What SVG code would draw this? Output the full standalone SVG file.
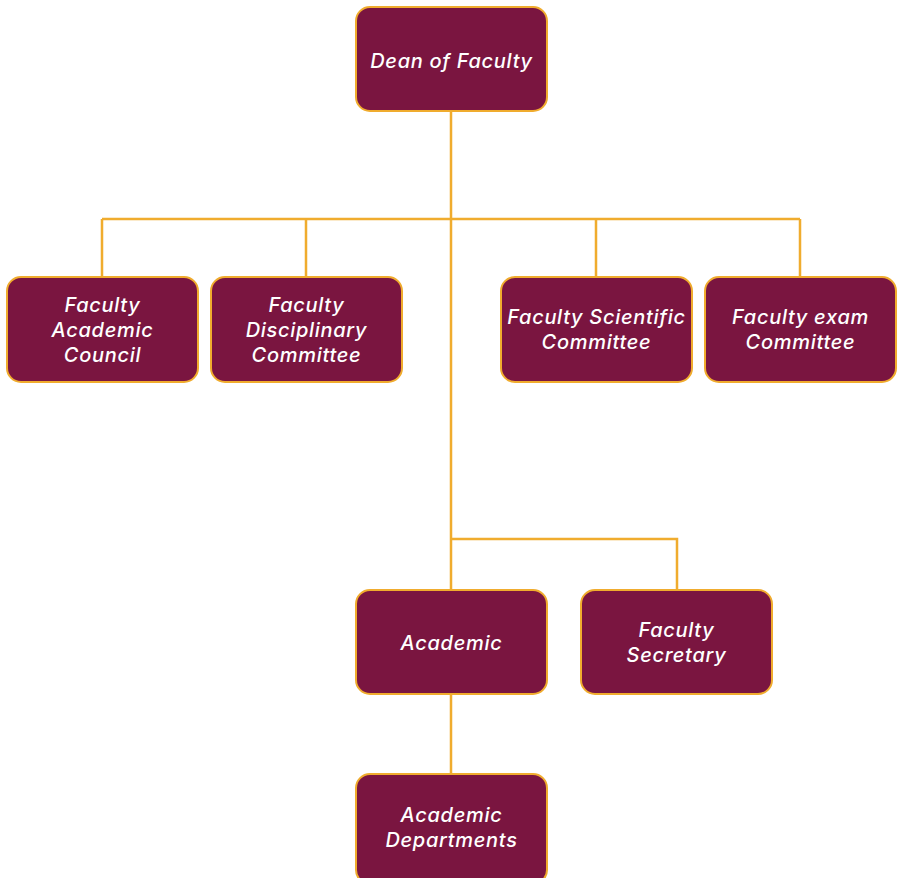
<svg xmlns="http://www.w3.org/2000/svg" width="900" height="878" viewBox="0 0 900 878">
<style>
.box{fill:#7A1540;stroke:#F0AC2E;stroke-width:2}
.lbl{fill:#fff;font-family:Inter,"Liberation Sans",sans-serif;font-style:italic;font-weight:500;font-size:20px;letter-spacing:0.7px;text-anchor:middle}
.con{stroke:#F0AC2E;stroke-width:2.5;fill:none}
</style>
<rect width="900" height="878" fill="#fff"/>
<g id="connectors">
<path class="con" d="M451 111V590M102 219H800M102 219V277M306 219V277M596 219V277M800 219V277M451 539H677V590M451 694V774"/>
</g>
<g id="dean"><rect class="box" x="356" y="7" width="191" height="104" rx="14"/><text class="lbl" x="451.5" y="68">Dean of Faculty</text></g>
<g id="academic-council"><rect class="box" x="7" y="277" width="191" height="105" rx="14"/><text class="lbl" x="102.5" y="312">Faculty<tspan x="102.5" dy="25">Academic</tspan><tspan x="102.5" dy="25">Council</tspan></text></g>
<g id="disciplinary"><rect class="box" x="211" y="277" width="191" height="105" rx="14"/><text class="lbl" x="306.5" y="312">Faculty<tspan x="306.5" dy="25">Disciplinary</tspan><tspan x="306.5" dy="25">Committee</tspan></text></g>
<g id="scientific"><rect class="box" x="501" y="277" width="191" height="105" rx="14"/><text class="lbl" x="596.5" y="324">Faculty Scientific<tspan x="596.5" dy="25">Committee</tspan></text></g>
<g id="exam"><rect class="box" x="705" y="277" width="191" height="105" rx="14"/><text class="lbl" x="800.5" y="324">Faculty exam<tspan x="800.5" dy="25">Committee</tspan></text></g>
<g id="academic"><rect class="box" x="356" y="590" width="191" height="104" rx="14"/><text class="lbl" x="451.5" y="650">Academic</text></g>
<g id="secretary"><rect class="box" x="581" y="590" width="191" height="104" rx="14"/><text class="lbl" x="676.5" y="637">Faculty<tspan x="676.5" dy="25">Secretary</tspan></text></g>
<g id="departments"><rect class="box" x="356" y="774" width="191" height="110" rx="14"/><text class="lbl" x="451.5" y="822">Academic<tspan x="451.5" dy="25">Departments</tspan></text></g>
</svg>
